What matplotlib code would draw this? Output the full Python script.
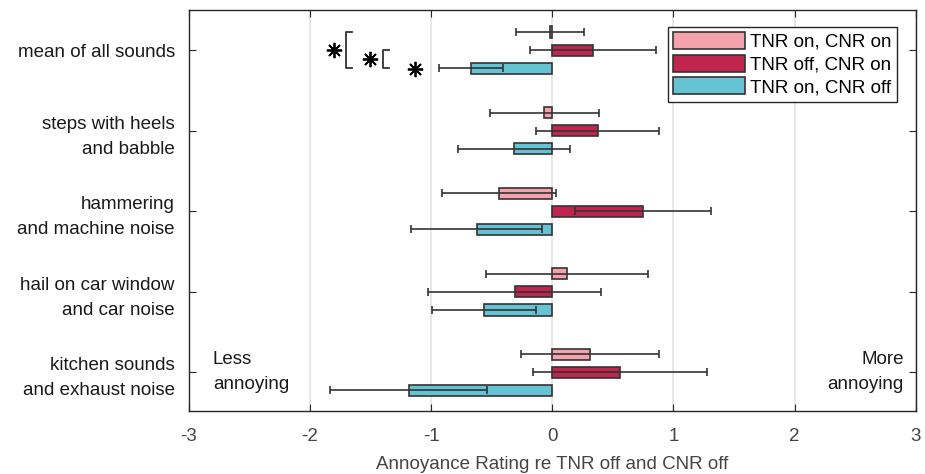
import numpy as np
import matplotlib.pyplot as plt

plt.rcParams['font.family'] = ['Liberation Sans', 'DejaVu Sans']
plt.rcParams['axes.unicode_minus'] = False

sounds = ["mean of all sounds", "steps with heels\nand babble", "hammering\nand machine noise",
          "hail on car window\nand car noise", "kitchen sounds\nand exhaust noise"]
conditions = ["TNR on, CNR on", "TNR off, CNR on", "TNR on, CNR off"]
colors = ["#F4A3AC", "#C0254D", "#66C3D4"]

# mean rating per sound and condition
means_on_on = [-0.02, -0.065, -0.437, 0.122, 0.31]
means_off_on = [0.34, 0.375, 0.746, -0.31, 0.56]
means_on_off = [-0.67, -0.314, -0.624, -0.56, -1.185]
# half width of the interval
err_on_on = [0.28, 0.45, 0.47, 0.665, 0.57]
err_off_on = [0.52, 0.505, 0.562, 0.715, 0.72]
err_on_off = [0.265, 0.462, 0.542, 0.43, 0.646]

means = [means_on_on, means_off_on, means_on_off]
errs = [err_on_on, err_off_on, err_on_off]

fs = 13.5

fig = plt.figure(figsize=(9.25, 4.74), dpi=100)
ax = fig.add_axes([0.204, 0.133, 0.786, 0.846])

y = np.arange(1, len(sounds) + 1)
offsets = [-0.225, 0.0, 0.225]
height = 0.14

for k in range(3):
    ax.barh(y + offsets[k], means[k], height=height, color=colors[k], edgecolor="#333333",
            linewidth=1.2, label=conditions[k], zorder=2)
    ax.errorbar(means[k], y + offsets[k], xerr=errs[k], fmt="none", ecolor="#333333",
                elinewidth=1.2, capsize=3, capthick=1.2, zorder=3)

# significance marks for the mean over all sounds
star = dict(marker=(8, 2, 0), ms=11, color="k", mew=1.3, zorder=4)
ax.plot([-1.797], [1.0], **star)
ax.plot([-1.65, -1.70, -1.70, -1.65], [1 + offsets[0], 1 + offsets[0], 1 + offsets[2], 1 + offsets[2]],
        color="#333333", lw=1.3, zorder=4)
ax.plot([-1.50], [1.115], **star)
ax.plot([-1.35, -1.40, -1.40, -1.35], [1 + offsets[1], 1 + offsets[1], 1 + offsets[2], 1 + offsets[2]],
        color="#333333", lw=1.3, zorder=4)
ax.plot([-1.136], [1 + offsets[2] + 0.01], **star)

ax.text(-2.8, 5.0, "Less\nannoying", ha="left", va="center", fontsize=fs, linespacing=1.6,
        color="#1a1a1a")
ax.text(2.9, 5.0, "More\nannoying", ha="right", va="center", fontsize=fs, linespacing=1.6,
        color="#1a1a1a")

ax.set_xlim(-3, 3)
ax.set_ylim(5.48, 0.5)
ax.set_xticks(range(-3, 4))
ax.set_yticks(y)
ax.set_yticklabels(sounds, fontsize=fs, linespacing=1.6)
ax.tick_params(axis="x", labelsize=fs, colors="#262626", direction="in", top=True, length=5, pad=12)
ax.tick_params(axis="y", direction="in", right=True, length=5, pad=10, colors="#262626")
for lab in ax.get_yticklabels():
    lab.set_color("#1a1a1a")
for lab in ax.get_xticklabels():
    lab.set_color("#444444")
ax.grid(axis="x", color="#e3e3e3", lw=1.2, zorder=0)
ax.set_axisbelow(True)
for s in ax.spines.values():
    s.set_color("#262626")
    s.set_linewidth(1.0)
ax.set_xlabel("Annoyance Rating re TNR off and CNR off", fontsize=fs, color="#444444", labelpad=8)

leg = ax.legend(loc="upper right", bbox_to_anchor=(0.98, 0.968), fontsize=fs, handlelength=3.8,
                handleheight=1.0, handletextpad=0.3, borderpad=0.3, labelspacing=0.2,
                borderaxespad=0.2, fancybox=False, edgecolor="#262626", framealpha=1)
leg.get_frame().set_linewidth(1.0)

fig.savefig("out.png", dpi=100)
